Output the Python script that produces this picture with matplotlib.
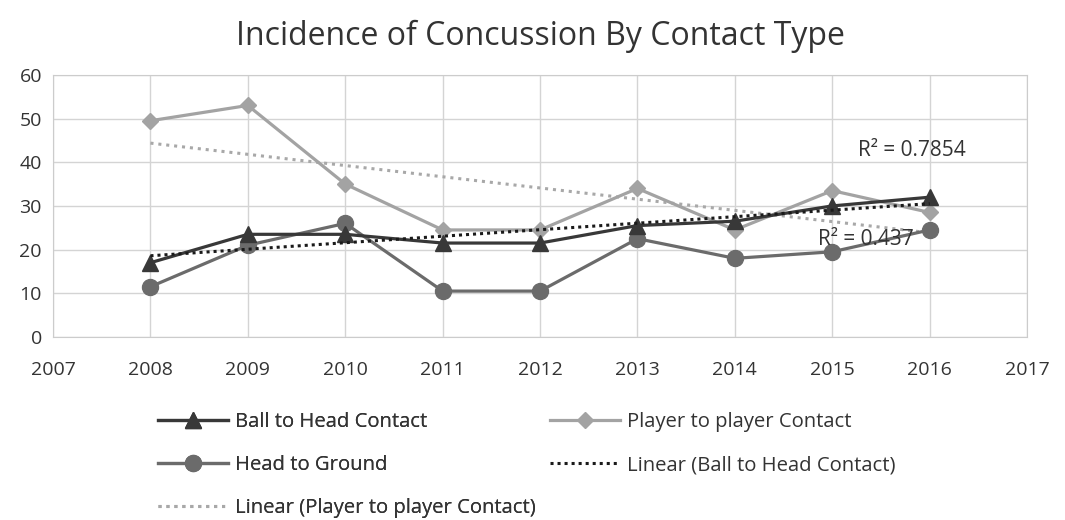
import numpy as np
import matplotlib
matplotlib.use("Agg")
import matplotlib.pyplot as plt

years = [2008, 2009, 2010, 2011, 2012, 2013, 2014, 2015, 2016]
ball_to_head = [17, 23.5, 23.5, 21.5, 21.5, 25.5, 26.5, 30, 32]
player_to_player = [49.5, 53, 35, 24.5, 24.5, 34, 24.5, 33.5, 28.5]
head_to_ground = [11.5, 21, 26, 10.5, 10.5, 22.5, 18, 19.5, 24.5]
r2_labels = ["R² = 0.7854", "R² = 0.437"]

plt.rcParams['font.family'] = ['Open Sans', 'DejaVu Sans']

fig = plt.figure(figsize=(10.65, 5.2), dpi=100)
ax = fig.add_axes([0.0498, 0.352, 0.9146, 0.504])

x = np.array(years)

# trend lines (linear fit)
k1, b1 = np.polyfit(x, ball_to_head, 1)
k2, b2 = np.polyfit(x, player_to_player, 1)

l_ball, = ax.plot(x, ball_to_head, color='#383838', lw=2.3, marker='^', ms=11, zorder=4,
                  label='Ball to Head Contact')
l_player, = ax.plot(x, player_to_player, color='#a3a3a3', lw=2.3, marker='D', ms=8.5, zorder=3,
                    label='Player to player Contact')
l_ground, = ax.plot(x, head_to_ground, color='#6b6b6b', lw=2.3, marker='o', ms=11.5, zorder=3,
                    label='Head to Ground')
t_ball, = ax.plot(x, k1 * x + b1, color='#1a1a1a', lw=2.2, ls=(0, (1, 1.3)), zorder=5,
                  label='Linear (Ball to Head Contact)')
t_player, = ax.plot(x, k2 * x + b2, color='#a8a8a8', lw=2.2, ls=(0, (1, 1.6)), zorder=2,
                    label='Linear (Player to player Contact)')

ax.text(2015.26, 42.8, r2_labels[0], fontsize=15, va='center', ha='left', color='#333333')
ax.text(2014.85, 22.4, r2_labels[1], fontsize=15, va='center', ha='left', color='#333333', zorder=6)

ax.set_xlim(2007, 2017)
ax.set_ylim(0, 60)
ax.set_xticks(range(2007, 2018))
ax.set_yticks(range(0, 61, 10))
ax.tick_params(length=0, labelsize=14, colors='#333333')
ax.tick_params(axis='x', pad=17)
ax.tick_params(axis='y', pad=8)
ax.grid(True, color='#d4d4d4', lw=1)
ax.set_axisbelow(True)
for s in ax.spines.values():
    s.set_color('#cccccc')

fig.text(0.507, 0.93, 'Incidence of Concussion By Contact Type', ha='center', va='center',
         fontsize=23, color='#333333')

# legend: two separate columns placed where they sit in the reference
leg_kw = dict(loc='upper left', frameon=False, fontsize=14.6, handlelength=3.45,
              labelspacing=1.12, handletextpad=0.35, borderpad=0, borderaxespad=0,
              labelcolor='#333333')
left = [l_ball, l_ground, t_player]
right = [l_player, t_ball]
leg1 = fig.legend(handles=left, labels=[h.get_label() for h in left],
                  bbox_to_anchor=(158 / 1065, 0.207), **leg_kw)
fig.add_artist(leg1)
fig.legend(handles=right, labels=[h.get_label() for h in right],
           bbox_to_anchor=(550 / 1065, 0.207), **leg_kw)

fig.savefig('out.png', dpi=100)
